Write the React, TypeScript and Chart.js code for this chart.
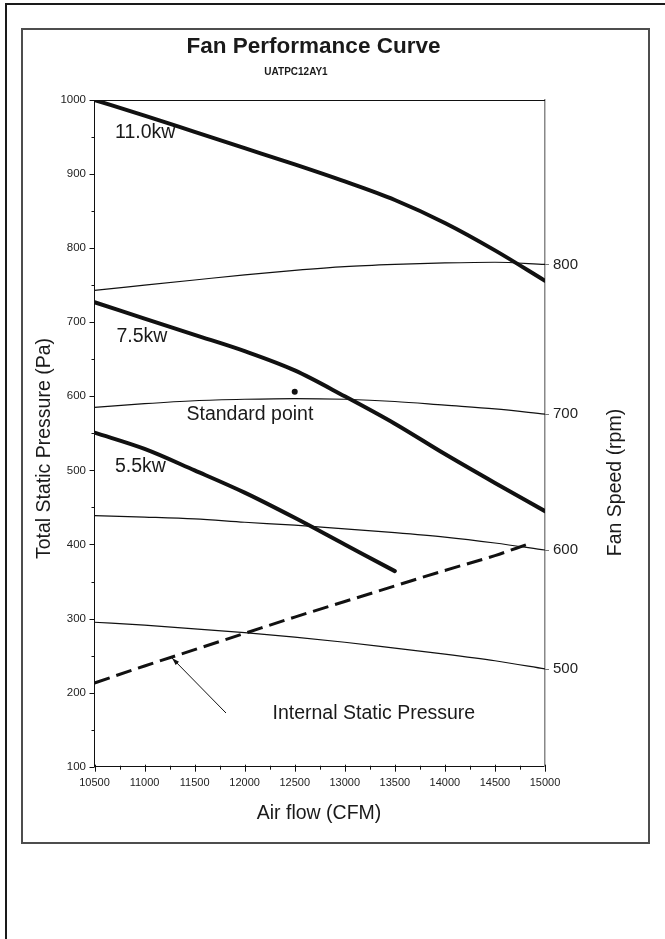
import React, { useEffect, useRef } from 'react';
import { Chart, registerables } from 'chart.js';

Chart.register(...registerables);

// ---- data (CFM vs Pa) ----
const airflow = [10500, 11000, 11500, 12000, 12500, 13000, 13500, 14000, 14500, 15000];
const kw110 = [1000, 979, 957, 935, 913, 890, 865, 834, 797, 756];
const kw75 = [727, 705, 683, 661, 635, 600, 563, 522, 483, 445];
const airflow55 = [10500, 11000, 11500, 12000, 12500, 13000, 13500];
const kw55 = [551, 529, 500, 470, 436, 400, 364];
const rpm800 = [743, 750, 757, 764, 770, 775, 778, 780, 781, 778];
const rpm700 = [585, 590, 594, 596, 597, 596, 593, 588, 583, 576];
const rpm600 = [439, 437, 434.5, 430, 426, 421, 416, 410, 402, 392.5];
const rpm500 = [295, 291, 286, 281, 275, 268, 260, 252, 243, 232];
const airflowISP = [10500, 11000, 11500, 12000, 12500, 13000, 13500, 14000, 14500, 14820];
const internalSP = [213, 236, 258, 280, 302, 323, 344, 365, 385, 400];
const standardPoint = { x: 12500, y: 606 };
const speedLabels = ['800', '700', '600', '500'];
const speedCurves = [rpm800, rpm700, rpm600, rpm500];

const FONT = "'Liberation Sans', Arial, Helvetica, sans-serif";

const toXY = (xs: number[], ys: number[]) => xs.map((x, i) => ({ x, y: ys[i] }));

const overlayPlugin = {
  id: 'overlay',
  afterDraw(chart: any) {
    const { ctx, chartArea } = chart;
    const { left, right, top, bottom } = chartArea;
    const x = chart.scales.x;
    const y = chart.scales.y;
    const y2 = chart.scales.y2;
    const a = (v: number) => Math.round(v) + 0.5;
    ctx.save();
    ctx.strokeStyle = '#111';
    ctx.lineWidth = 1;
    const seg = (x1: number, y1: number, x2: number, y2_: number) => {
      ctx.beginPath();
      ctx.moveTo(x1, y1);
      ctx.lineTo(x2, y2_);
      ctx.stroke();
    };
    // top frame line
    seg(left, a(top), right, a(top));
    // left axis ticks
    for (let v = 100; v <= 1000; v += 50) {
      const p = a(y.getPixelForValue(v));
      const len = v % 100 === 0 ? 5 : 3;
      seg(left - len, p, left, p);
    }
    // bottom axis ticks
    for (let v = 10500; v <= 15000; v += 250) {
      const p = a(x.getPixelForValue(v));
      const major = v % 500 === 0;
      seg(p, bottom - (major ? 2 : 1), p, bottom + (major ? 5 : 3));
    }
    // right axis ticks
    ctx.strokeStyle = '#777';
    y2.ticks.forEach((t: any) => {
      const p = a(y2.getPixelForValue(t.value));
      seg(right, p, right + 4, p);
    });

    // arrow to internal static pressure
    ctx.strokeStyle = '#111';
    ctx.fillStyle = '#111';
    const sx = 226, sy = 713, ex = 172, ey = 658;
    seg(sx, sy, ex, ey);
    const ang = Math.atan2(ey - sy, ex - sx);
    ctx.beginPath();
    ctx.moveTo(ex, ey);
    ctx.lineTo(ex - 8 * Math.cos(ang - 0.3), ey - 8 * Math.sin(ang - 0.3));
    ctx.lineTo(ex - 8 * Math.cos(ang + 0.3), ey - 8 * Math.sin(ang + 0.3));
    ctx.closePath();
    ctx.fill();

    // texts
    const text = (s: string, tx: number, ty: number, font: string, align: CanvasTextAlign = 'left', color = '#1a1a1a') => {
      ctx.font = font;
      ctx.fillStyle = color;
      ctx.textAlign = align;
      ctx.textBaseline = 'alphabetic';
      ctx.fillText(s, tx, ty);
    };
    text('Fan Performance Curve', 313.5, 53, `bold 22.5px ${FONT}`, 'center');
    text('UATPC12AY1', 296, 75, `bold 10px ${FONT}`, 'center');
    text('11.0kw', 115, 138, `19.5px ${FONT}`);
    text('7.5kw', 116.5, 342, `19.5px ${FONT}`);
    text('5.5kw', 115, 471.5, `19.5px ${FONT}`);
    text('Standard point', 186.5, 420, `19.5px ${FONT}`);
    text('Internal Static Pressure', 272.5, 719, `19.5px ${FONT}`);
    text('Air flow (CFM)', 319, 819, `19.5px ${FONT}`, 'center');

    // rotated axis titles
    ctx.save();
    ctx.translate(49.5, 448.5);
    ctx.rotate(-Math.PI / 2);
    text('Total Static Pressure (Pa)', 0, 0, `19.5px ${FONT}`, 'center');
    ctx.restore();
    ctx.save();
    ctx.translate(621, 482.5);
    ctx.rotate(-Math.PI / 2);
    text('Fan Speed (rpm)', 0, 0, `19.5px ${FONT}`, 'center');
    ctx.restore();

    ctx.restore();
  },
};

export default function App() {
  const ref = useRef<HTMLCanvasElement>(null);

  useEffect(() => {
    const canvas = ref.current;
    if (!canvas) return;
    const thick = { borderColor: '#111', borderWidth: 4, pointRadius: 0, cubicInterpolationMode: 'monotone' as const, borderCapStyle: 'round' as const };
    const thin = { borderColor: '#111', borderWidth: 1.2, pointRadius: 0, cubicInterpolationMode: 'monotone' as const };
    const chart = new Chart(canvas, {
      type: 'line',
      data: {
        datasets: [
          { label: '11.0kw', data: toXY(airflow, kw110), ...thick },
          { label: '7.5kw', data: toXY(airflow, kw75), ...thick },
          { label: '5.5kw', data: toXY(airflow55, kw55), ...thick },
          { label: '800 rpm', data: toXY(airflow, rpm800), ...thin },
          { label: '700 rpm', data: toXY(airflow, rpm700), ...thin },
          { label: '600 rpm', data: toXY(airflow, rpm600), ...thin },
          { label: '500 rpm', data: toXY(airflow, rpm500), ...thin },
          {
            label: 'Internal Static Pressure',
            data: toXY(airflowISP, internalSP),
            borderColor: '#111',
            borderWidth: 3,
            borderDash: [16, 7],
            pointRadius: 0,
            cubicInterpolationMode: 'monotone',
          },
          {
            label: 'Standard point',
            data: [standardPoint],
            showLine: false,
            pointRadius: 3,
            pointBackgroundColor: '#111',
            pointBorderColor: '#111',
            borderWidth: 0,
          },
        ] as any,
      },
      options: {
        animation: false,
        responsive: false,
        events: [],
        layout: { padding: { top: 100, left: 30, right: 60, bottom: 132.3 } },
        plugins: { legend: { display: false }, tooltip: { enabled: false }, title: { display: false } },
        scales: {
          x: {
            type: 'linear',
            min: 10500,
            max: 15000,
            afterFit: (s: any) => { s.height = 40; },
            border: { display: true, color: '#111', width: 1 },
            grid: { display: true, drawOnChartArea: false, drawTicks: false },
            ticks: {
              stepSize: 500,
              autoSkip: false,
              maxRotation: 0,
              padding: 10,
              color: '#222',
              font: { family: FONT, size: 11 },
              callback: (v: any) => String(v),
            },
          },
          y: {
            type: 'linear',
            position: 'left',
            min: 100,
            max: 1000,
            afterFit: (s: any) => { s.width = 64.5; },
            border: { display: true, color: '#111', width: 1 },
            grid: { display: true, drawOnChartArea: false, drawTicks: false },
            ticks: {
              stepSize: 100,
              padding: 8.5,
              color: '#222',
              font: { family: FONT, size: 11.5 },
              callback: (v: any) => String(v),
            },
          },
          y2: {
            type: 'linear',
            position: 'right',
            min: 100,
            max: 1000,
            afterFit: (s: any) => { s.width = 60; },
            afterBuildTicks: (s: any) => {
              s.ticks = speedCurves.map((c) => ({ value: c[c.length - 1] }));
            },
            border: { display: true, color: '#888', width: 1.5 },
            grid: { display: true, drawOnChartArea: false, drawTicks: false },
            ticks: {
              padding: 8,
              color: '#222',
              font: { family: FONT, size: 15 },
              callback: (_v: any, i: number) => speedLabels[i],
            },
          },
        },
      } as any,
      plugins: [overlayPlugin],
    });
    return () => chart.destroy();
  }, []);

  return (
    <div style={{ position: 'absolute', left: 0, top: 0, width: 665, height: 939, overflow: 'hidden', background: '#fff' }}>
      <div style={{ position: 'absolute', left: 5, top: 3, width: 720, height: 1000, borderLeft: '2px solid #1a1a1a', borderTop: '2px solid #1a1a1a' }} />
      <div style={{ position: 'absolute', left: 21, top: 28, width: 625, height: 812, border: '2px solid #4d4d4d' }} />
      <canvas ref={ref} width={665} height={939} style={{ position: 'absolute', left: 0, top: 0, width: 665, height: 939 }} />
    </div>
  );
}
